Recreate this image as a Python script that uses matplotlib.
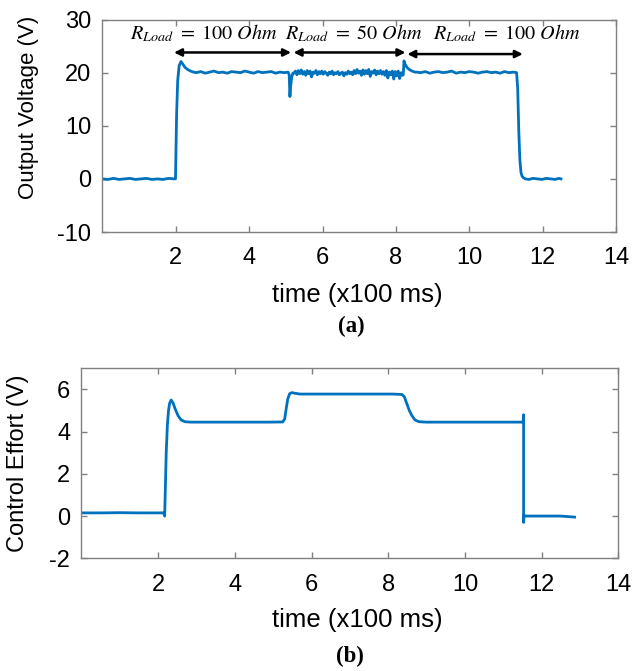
import numpy as np
import matplotlib
matplotlib.use("Agg")
import matplotlib.pyplot as plt

plt.rcParams["font.family"] = ["Liberation Sans", "DejaVu Sans"]
plt.rcParams["mathtext.fontset"] = "stix"
plt.rcParams["axes.unicode_minus"] = False

BLUE = "#0072BD"
GRAY = "#808080"

# ---- (a) output voltage (time in x100 ms, volts) ----
base_t = [0.0, 0.15, 0.3, 0.45, 0.6, 0.75, 0.9, 1.05, 1.2, 1.35, 1.5, 1.65, 1.8, 1.95, 1.99]
base_v = [0.0, -0.1, 0.1, -0.1, 0.0, 0.1, -0.1, 0.0, 0.1, -0.1, 0.0, -0.1, 0.1, 0.0, 0.0]

rise_t = [2.00, 2.02, 2.05, 2.09, 2.14, 2.19, 2.25, 2.32, 2.40, 2.48]
rise_v = [4.0, 12.0, 18.5, 21.3, 22.1, 21.6, 21.0, 20.6, 20.3, 20.1]

hold1_t = [2.56, 2.68, 2.80, 2.92, 3.04, 3.16, 3.28, 3.40, 3.52, 3.64, 3.76,
           3.88, 4.00, 4.12, 4.24, 4.36, 4.48, 4.60, 4.72, 4.84, 4.96, 5.06]
hold1_v = [20.0, 20.2, 19.9, 20.1, 20.3, 20.0, 20.1, 19.9, 20.2, 20.1, 20.0,
           20.3, 20.1, 19.9, 20.2, 20.0, 20.1, 20.2, 19.9, 20.1, 20.0, 20.1]

dip_t = [5.09, 5.11, 5.13, 5.16, 5.19]
dip_v = [19.6, 15.5, 17.5, 19.2, 19.9]

# 50 Ohm stretch, sampled every 0.04 from 5.22 to 8.18
noisy_v = [19.9, 20.3, 19.6, 20.4, 19.8, 20.5, 19.7, 20.2, 19.5, 20.4,
           19.8, 20.3, 19.2, 20.1, 19.9, 20.4, 19.6, 20.2, 19.8, 20.3,
           19.7, 20.2, 19.9, 19.5, 20.1, 19.8, 20.3, 19.6, 20.0, 19.8,
           20.2, 19.6, 19.9, 20.1, 19.4, 20.0, 19.7, 20.3, 19.8, 20.1,
           19.6, 20.4, 19.8, 20.6, 19.9, 20.3, 19.5, 20.5, 19.7, 20.4,
           19.8, 20.6, 19.3, 20.2, 19.9, 20.5, 19.6, 20.3, 19.8, 20.4,
           19.7, 20.2, 19.5, 20.4, 19.0, 20.1, 19.6, 20.3, 18.8, 20.2,
           19.4, 20.3, 18.9, 20.0, 19.5]
noisy_t = list(np.linspace(5.22, 8.18, len(noisy_v)))

spike_t = [8.20, 8.22, 8.25, 8.30, 8.36, 8.44, 8.52]
spike_v = [19.6, 22.2, 21.6, 21.0, 20.6, 20.3, 20.1]

hold2_t = [8.56, 8.68, 8.80, 8.92, 9.04, 9.16, 9.28, 9.40, 9.52, 9.64, 9.76, 9.88,
           10.00, 10.12, 10.24, 10.36, 10.48, 10.60, 10.72, 10.84, 10.96, 11.08, 11.20, 11.29]
hold2_v = [20.1, 20.0, 20.2, 19.9, 20.1, 20.2, 20.0, 20.1, 20.3, 19.9, 20.1, 20.0,
           20.2, 20.1, 19.9, 20.1, 20.2, 20.0, 20.1, 19.9, 20.2, 20.0, 20.1, 20.0]

fall_t = [11.32, 11.35, 11.38, 11.41, 11.44, 11.48, 11.53]
fall_v = [17.0, 9.0, 3.5, 1.2, 0.5, 0.2, 0.0]

tail_t = [11.62, 11.74, 11.86, 11.98, 12.10, 12.22, 12.34, 12.44, 12.50]
tail_v = [-0.1, 0.1, 0.0, -0.1, 0.1, 0.0, -0.1, 0.1, 0.0]

out_t = base_t + rise_t + hold1_t + dip_t + noisy_t + spike_t + hold2_t + fall_t + tail_t
out_v = base_v + rise_v + hold1_v + dip_v + noisy_v + spike_v + hold2_v + fall_v + tail_v

# load annotations: (text x, arrow start, arrow end, arrow y)
load_labels = [r"$R_{Load}\ =\ 100\ Ohm$", r"$R_{Load}\ =\ 50\ Ohm$", r"$R_{Load}\ =\ 100\ Ohm$"]
label_x = [2.77, 6.86, 11.02]
arrow_x0 = [1.95, 5.21, 8.31]
arrow_x1 = [5.14, 8.26, 11.46]
arrow_y = [23.8, 23.8, 23.5]

# ---- (b) control effort ----
ctl_t = [0.0, 0.5, 1.0, 1.5, 2.0, 2.14, 2.17, 2.19, 2.21, 2.24, 2.27, 2.30, 2.34, 2.39, 2.45,
         2.52, 2.60, 2.70, 2.85, 3.5, 4.2, 4.9, 5.25, 5.30, 5.34, 5.38, 5.43, 5.49, 5.56, 5.70,
         6.5, 7.3, 8.1, 8.36, 8.42, 8.48, 8.55, 8.62, 8.70, 8.80, 9.0, 9.8, 10.6, 11.3, 11.52,
         11.53, 11.53, 11.54, 11.56, 12.0, 12.5, 12.86]
ctl_v = [0.15, 0.15, 0.16, 0.15, 0.15, 0.15, 0.0, 1.5, 3.0, 4.3, 5.0, 5.35, 5.5, 5.35, 5.05,
         4.75, 4.55, 4.47, 4.45, 4.45, 4.45, 4.45, 4.46, 4.6, 5.1, 5.55, 5.8, 5.85, 5.82, 5.78,
         5.78, 5.78, 5.78, 5.76, 5.65, 5.35, 5.0, 4.75, 4.55, 4.47, 4.45, 4.45, 4.45, 4.45, 4.45,
         4.8, -0.3, 0.05, 0.0, 0.0, 0.0, -0.05]

x_ticks = [2, 4, 6, 8, 10, 12, 14]


def style_axes(ax):
    for sp in ax.spines.values():
        sp.set_color(GRAY)
        sp.set_linewidth(1.0)
    ax.tick_params(direction="in", length=4, width=1.0, color=GRAY,
                   top=True, right=True, labelsize=17, pad=8)
    ax.tick_params(axis="x", pad=11)
    ax.set_xlim(0, 14)
    ax.set_xticks(x_ticks)


fig = plt.figure(figsize=(6.43, 6.71), dpi=100)

ax1 = fig.add_axes([0.1594, 0.6542, 0.7986, 0.3167])
ax1.plot(out_t, out_v, color=BLUE, lw=2.0)
style_axes(ax1)
ax1.set_ylim(-10, 30)
ax1.set_yticks([-10, 0, 10, 20, 30])
for txt, lx, x0, x1, ay in zip(load_labels, label_x, arrow_x0, arrow_x1, arrow_y):
    ax1.text(lx, 26.2, txt, ha="center", va="baseline", fontsize=14.5)
    ax1.annotate("", xy=(x1, ay), xytext=(x0, ay),
                 arrowprops=dict(arrowstyle="<|-|>", color="black", lw=1.8,
                                 mutation_scale=11, shrinkA=0, shrinkB=0))

ax2 = fig.add_axes([0.1267, 0.1680, 0.8349, 0.2831])
ax2.plot(ctl_t, ctl_v, color=BLUE, lw=2.0)
style_axes(ax2)
ax2.set_ylim(-2, 7)
ax2.set_yticks([-2, 0, 2, 4, 6])

fig.text(0.045, 0.8405, "Output Voltage (V)", rotation=90, ha="center", va="center", fontsize=16)
fig.text(0.028, 0.31, "Control Effort (V)", rotation=90, ha="center", va="center", fontsize=17)
fig.text(0.555, 0.560, "time (x100 ms)", ha="center", va="center", fontsize=18.5)
fig.text(0.555, 0.076, "time (x100 ms)", ha="center", va="center", fontsize=18.5)
fig.text(0.547, 0.514, "(a)", ha="center", va="center", fontsize=16.5,
         fontweight="bold", family="Liberation Serif")
fig.text(0.544, 0.022, "(b)", ha="center", va="center", fontsize=16.5,
         fontweight="bold", family="Liberation Serif")

fig.savefig("out.png", dpi=100)
